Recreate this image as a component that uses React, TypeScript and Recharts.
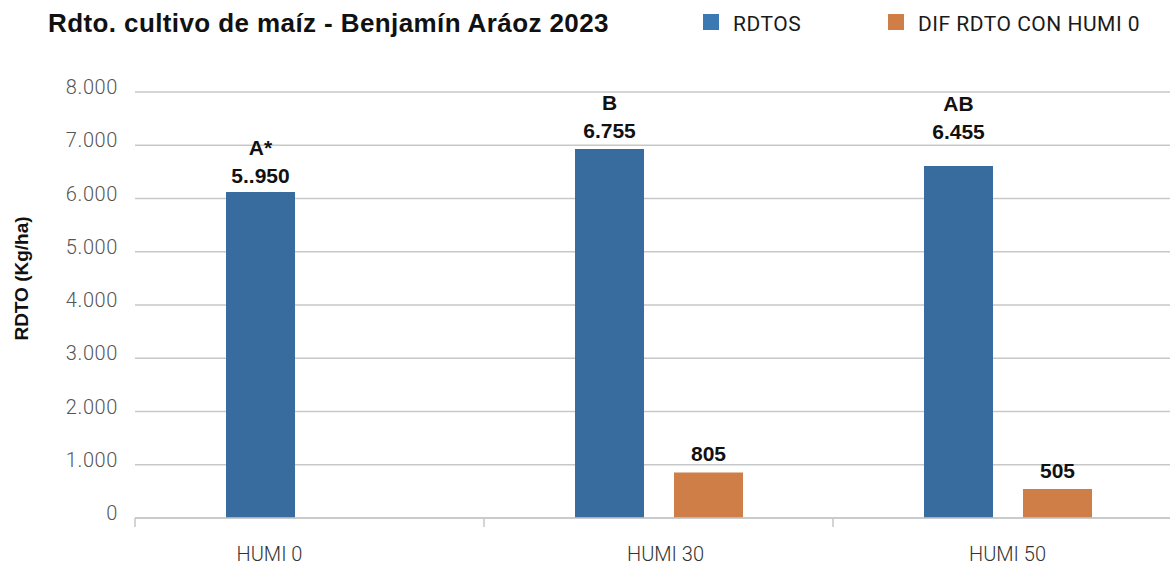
import React from 'react';
import { BarChart, Bar, XAxis, YAxis, CartesianGrid, LabelList } from 'recharts';

const categories = ['HUMI 0', 'HUMI 30', 'HUMI 50'];
const rdtosValues = [6120, 6930, 6610];
const difValues = [0, 855, 545];
const rdtosLabels = ['5..950', '6.755', '6.455'];
const letterLabels = ['A*', 'B', 'AB'];
const difLabels = ['', '805', '505'];
const yTicks = [0, 1000, 2000, 3000, 4000, 5000, 6000, 7000, 8000];
const yTickLabels = ['0', '1.000', '2.000', '3.000', '4.000', '5.000', '6.000', '7.000', '8.000'];

const TITLE = 'Rdto. cultivo de maíz - Benjamín Aráoz 2023';
const Y_LABEL = 'RDTO (Kg/ha)';
const SERIES_NAMES = ['RDTOS', 'DIF RDTO CON HUMI 0'];

const BLUE = '#386c9e';
const ORANGE = '#cf7e47';
const LEGEND_BLUE = '#3c78b2';
const LEGEND_ORANGE = '#d07d46';
const GRID = '#c6c9c9';
const LIGHT_FONT = 'Roboto, "Liberation Sans", Arial, sans-serif';
const BOLD_FONT = '"Liberation Sans", Arial, sans-serif';

// small extra lift for individual value labels (style only)
const blueLabelLift = [0, 2, 18];
const xLabelShift = [-40, 7, 0];

const data = categories.map((c, i) => ({
  name: c,
  rdtos: rdtosValues[i],
  dif: difValues[i],
  rdtosLabel: rdtosLabels[i],
  difLabel: difLabels[i],
}));

const YTick = (props: any) => {
  const { x, y, payload } = props;
  const idx = yTicks.indexOf(payload.value);
  return (
    <text x={x} y={y} dy={2} textAnchor="end" fontFamily={LIGHT_FONT} fontWeight={300} fontSize={20} letterSpacing={0.6} fill="#555">
      {yTickLabels[idx] ?? String(payload.value)}
    </text>
  );
};

const XTick = (props: any) => {
  const { x, y, payload, index } = props;
  const half = payload.offset ?? 0;
  const bx = x - half;
  const i = categories.indexOf(payload.value);
  const shift = xLabelShift[i >= 0 ? i : index] ?? 0;
  return (
    <g>
      <line x1={bx} x2={bx} y1={y - 9} y2={y} stroke={GRID} strokeWidth={1.5} />
      <text x={x + shift} y={y + 34} textAnchor="middle" fontFamily={LIGHT_FONT} fontWeight={300} fontSize={20} fill="#333">
        {payload.value}
      </text>
    </g>
  );
};

const BlueLabel = (props: any) => {
  const { x, y, width, value } = props;
  const i = Math.max(0, rdtosLabels.indexOf(String(value)));
  const cx = Number(x) + Number(width) / 2;
  const lift = blueLabelLift[i] ?? 0;
  const numY = Number(y) - 9 - lift;
  return (
    <g>
      <text x={cx} y={numY - 28} textAnchor="middle" fontFamily={BOLD_FONT} fontWeight={700} fontSize={21} fill="#111">
        {letterLabels[i]}
      </text>
      <text x={cx} y={numY} textAnchor="middle" fontFamily={BOLD_FONT} fontWeight={700} fontSize={21} fill="#111">
        {rdtosLabels[i]}
      </text>
    </g>
  );
};

const OrangeLabel = (props: any) => {
  const { x, y, width, value } = props;
  if (!value) return null;
  const cx = Number(x) + Number(width) / 2;
  return (
    <text x={cx} y={Number(y) - 11} textAnchor="middle" fontFamily={BOLD_FONT} fontWeight={700} fontSize={21} fill="#111">
      {String(value)}
    </text>
  );
};

export default function App() {
  return (
    <div style={{ position: 'fixed', left: 0, top: 0, width: 1170, height: 567, overflow: 'hidden', background: '#fff' }}>
      <BarChart
        width={1190}
        height={567}
        data={data}
        margin={{ top: 92, right: 8, bottom: 4, left: 0 }}
        barGap={30}
        barSize={69}
      >
        <CartesianGrid vertical={false} stroke={GRID} strokeWidth={1.5} />
        <YAxis
          width={135}
          domain={[0, 8000]}
          ticks={yTicks}
          axisLine={false}
          tickLine={false}
          tickSize={0}
          tickMargin={17}
          tick={<YTick />}
          interval={0}
        />
        <XAxis
          dataKey="name"
          height={45}
          axisLine={{ stroke: GRID, strokeWidth: 1.5 }}
          tickLine={false}
          tickSize={9}
          tickMargin={0}
          tick={<XTick />}
          interval={0}
        />
        <Bar dataKey="rdtos" name={SERIES_NAMES[0]} fill={BLUE} isAnimationActive={false}>
          <LabelList dataKey="rdtosLabel" content={<BlueLabel />} />
        </Bar>
        <Bar dataKey="dif" name={SERIES_NAMES[1]} fill={ORANGE} isAnimationActive={false}>
          <LabelList dataKey="difLabel" content={<OrangeLabel />} />
        </Bar>
      </BarChart>
      <svg width={1170} height={567} style={{ position: 'absolute', left: 0, top: 0, pointerEvents: 'none' }}>
        <text x={48} y={32} fontFamily={BOLD_FONT} fontWeight={700} fontSize={26} letterSpacing={0.4} fill="#111">{TITLE}</text>
        <rect x={703} y={14} width={16} height={16} fill={LEGEND_BLUE} />
        <text x={733} y={31} fontFamily={LIGHT_FONT} fontWeight={400} fontSize={21} letterSpacing={0.5} fill="#1a1a1a">{SERIES_NAMES[0]}</text>
        <rect x={888} y={14} width={16} height={16} fill={LEGEND_ORANGE} />
        <text x={918} y={31} fontFamily={LIGHT_FONT} fontWeight={400} fontSize={21} letterSpacing={0.5} fill="#1a1a1a">{SERIES_NAMES[1]}</text>
        <text
          x={0}
          y={0}
          transform="translate(28, 278.5) rotate(-90)"
          textAnchor="middle"
          fontFamily={BOLD_FONT}
          fontWeight={700}
          fontSize={19}
          fill="#111"
        >
          {Y_LABEL}
        </text>
      </svg>
    </div>
  );
}
